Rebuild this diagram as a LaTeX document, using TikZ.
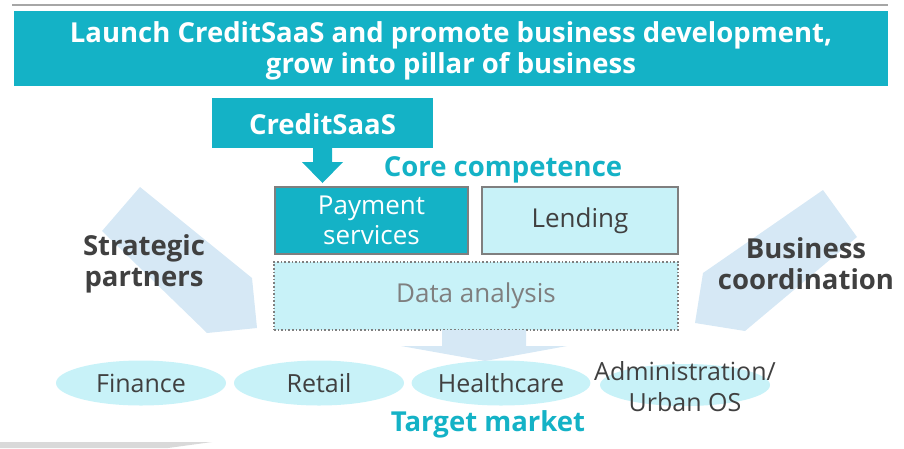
\documentclass[tikz,border=0pt]{standalone}
\usepackage{fontspec}
\setmainfont{Open Sans}
\usetikzlibrary{positioning,shapes.geometric}

\definecolor{brand}{HTML}{14B2C6}
\definecolor{paleteal}{HTML}{C8F2F8}
\definecolor{paleblue}{HTML}{D6E8F5}
\definecolor{inkgray}{HTML}{404040}
\definecolor{rimgray}{HTML}{7F7F7F}

\begin{document}
\begin{tikzpicture}[x=1pt,y=-1pt,
    head/.style={font=\fontsize{27.5}{31}\selectfont\bfseries},
    plain/.style={font=\fontsize{26}{30}\selectfont},
    tile/.style={draw=rimgray, line width=1.6pt, inner sep=0pt, align=center},
    market/.style={ellipse, fill=paleteal, minimum width=170pt, minimum height=45pt,
        inner sep=0pt, text=inkgray, font=\fontsize{25}{31}\selectfont}]
        \useasboundingbox (0,0) rectangle (904,448);

        % rule at the top and band at the bottom
        \draw[line width=2.5pt, gray!70] (12,5) -- (888,5);
        \fill[gray!30] (0,442) -- (212,442) -- (168,448) -- (0,448) -- cycle;

        % title banner
        \node[fill=brand, minimum width=874pt, minimum height=75pt, inner sep=0pt] (banner) at (451,48.5) {};
        \node[head, text=white, align=center] (title) at (451,51) {Launch CreditSaaS and promote business development,\\grow into pillar of business};

        % side arrows
        \fill[paleblue] (140,187) -- (102,231) -- (207,333) -- (257,328) -- (252,278) -- cycle;
        \fill[paleblue] (823,190) -- (857,237) -- (745,331) -- (695,323) -- (703,273) -- cycle;

        % CreditSaaS and its arrow
        \node[fill=brand, minimum width=221pt, minimum height=50pt, inner sep=0pt] (saas) at (322.5,123) {};
        \node[head, text=white] (saastext) at (322.5,124.5) {CreditSaaS};
        \fill[brand] (313,148) -- (332,148) -- (332,162) -- (343,162) -- (322.5,183) -- (302,162) -- (313,162) -- cycle;
        \node[head, text=brand] (core) at (503,170) {Core competence};

        % core competence tiles
        \node[tile, fill=brand, minimum width=193pt, minimum height=67pt, plain, text=white] (pay) at (371.5,220.5) {Payment\\services};
        \node[tile, fill=paleteal, minimum width=196pt, minimum height=67pt, plain, text=inkgray] (lend) at (580,220.5) {Lending};
        \node[tile, fill=paleteal, dotted, line width=1.4pt, minimum width=404pt, minimum height=68pt, plain, text=rimgray] (data) at (476,296) {Data analysis};

        % arrow into the markets
        \fill[paleblue] (442,330) -- (526,330) -- (526,346) -- (567,346) -- (485,361) -- (401,346) -- (442,346) -- cycle;

        % target markets
        \node[market] (fin) at (141,383) {Finance};
        \node[market] (ret) at (319,383) {Retail};
        \node[market, minimum width=168pt] (health) at (501,383) {Healthcare};
        \node[market, minimum height=42pt] (admin) at (685,385) {};
        \node[text=inkgray, align=center, font=\fontsize{25}{31}\selectfont] (admintext) at (685,387) {Administration/\\Urban OS};
        \node[head, text=brand] (target) at (488,424) {Target market};

        % labels on the side arrows
        \node[head, text=inkgray, align=center] (partner) at (144,264) {Strategic\\partners};
        \node[head, text=inkgray, align=center] (coord) at (806,264) {Business\\coordination};
\end{tikzpicture}
\end{document}
